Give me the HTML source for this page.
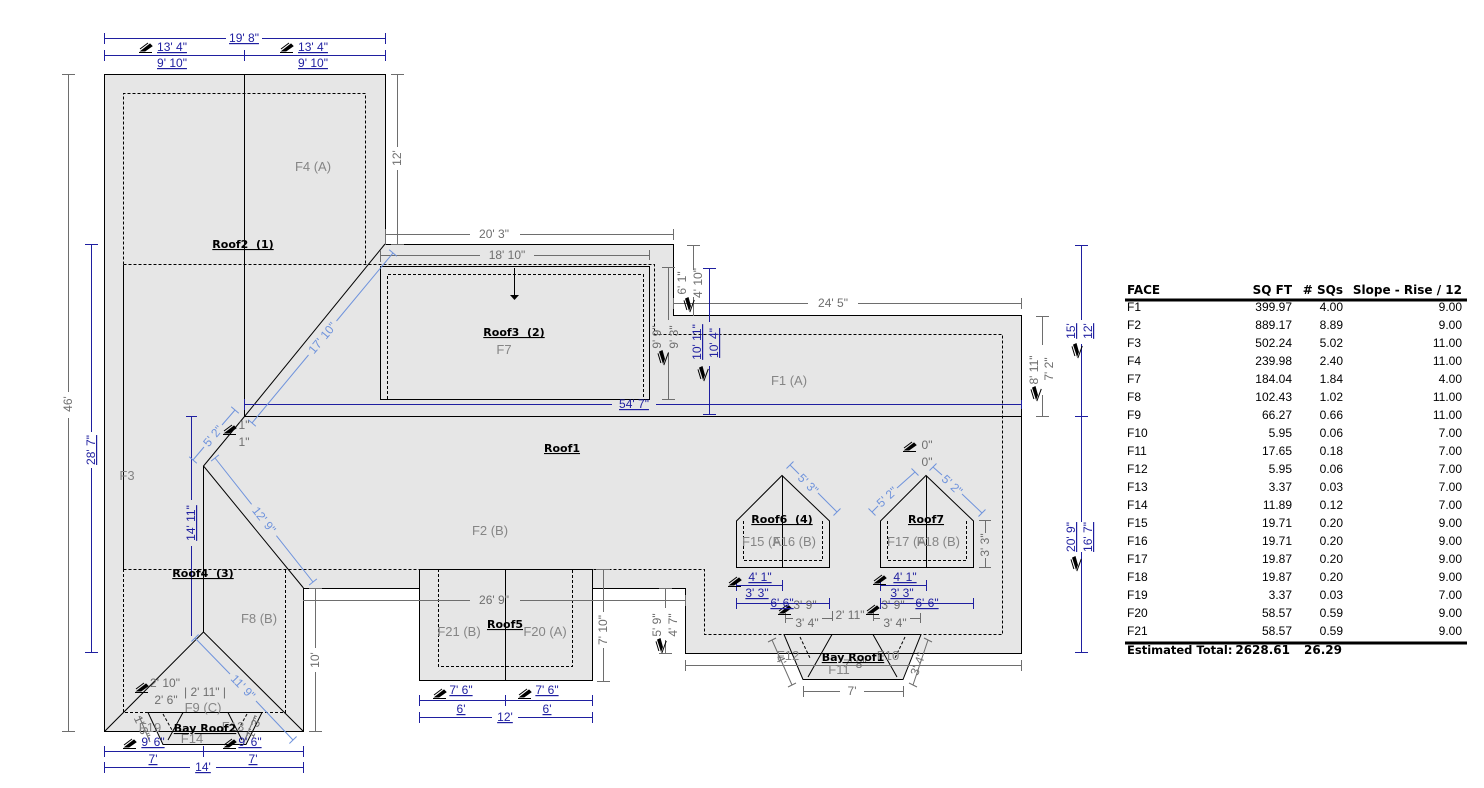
<!DOCTYPE html>
<html><head><meta charset="utf-8">
<style>
html,body{margin:0;padding:0;background:#fff;width:1484px;height:788px;overflow:hidden}
svg{display:block}
text{font-family:"Liberation Sans",Arial,sans-serif;font-size:12px}
.g{fill:#6e6e6e}
.b{fill:#1f1fa0;text-decoration:underline}
.lb{fill:#6f93dc}
.f{fill:#858585;font-size:13px}
.r{font-family:"DejaVu Sans",sans-serif;font-weight:bold;font-size:11px;fill:#000;text-decoration:underline;white-space:pre}
.t{font-family:"DejaVu Sans",sans-serif;font-size:12px;fill:#000}
.tb{font-family:"DejaVu Sans",sans-serif;font-size:12px;font-weight:bold;fill:#000}
.m{text-anchor:middle}
.e{text-anchor:end}
</style></head><body>
<svg width="1484" height="788" viewBox="0 0 1484 788" xmlns="http://www.w3.org/2000/svg">
<rect width="1484" height="788" fill="#fff"/>

<!-- main building -->
<path d="M104.5,74.5 H385.5 V244.5 H673.5 V315.5 H1021.5 V653.5 H685.5 V588.5 H303.5 V731.5 H104.5 Z" fill="#e6e6e6" stroke="#000"/>

<!-- dashed lines -->
<g stroke="#000" fill="none" stroke-dasharray="3 2">
<path d="M123.5,264.5 V93.5 H365.5 V264.5"/>
<path d="M123.5,264.5 H654.5 V334.5 H1002.5 V634.5 H704.5 V569.5 H123.5"/>
<path d="M123.5,569 V712.5 H285.5 V569"/>
</g>

<!-- black solid internal -->
<g stroke="#000" fill="none">
<path d="M244.5,74 V416.5"/>
<path d="M385,244 L244.5,416.5"/>
<path d="M244.5,416.5 H1021"/>
<path d="M244.5,416.5 L203.5,466 L303.5,588"/>
<path d="M203.5,466 V632"/>
<path d="M203.5,632 L104.5,731.5 M203.5,632 L303.5,731.5"/>
<path d="M123.5,265 V569"/>
<rect x="380.5" y="266.5" width="269" height="133"/>
</g>
<path d="M387.5,399 V274.5 H643.5 V399" stroke="#000" fill="none" stroke-dasharray="3 2"/>
<!-- roof3 arrow -->
<path d="M514.5,268 V296" stroke="#000"/>
<path d="M510,295 L519,295 L514.5,300 Z" fill="#000"/>

<!-- Roof5 -->
<rect x="419.5" y="569.5" width="173" height="111" fill="#e6e6e6" stroke="#000"/>
<path d="M438.5,569 V666.5 H572.5 V569" stroke="#000" fill="none" stroke-dasharray="3 2"/>
<path d="M505.5,569.5 V680.5" stroke="#000"/>

<!-- Roof6 / Roof7 -->
<path d="M736.5,567.5 V521 L782,475.5 L829.5,521 V567.5 Z" fill="#e6e6e6" stroke="#000"/>
<path d="M743.5,521 V560.5 H822.5 V521" stroke="#000" fill="none" stroke-dasharray="3 2"/>
<path d="M782.5,475.5 V567.5" stroke="#000"/>
<path d="M880.5,567.5 V521 L926,475.5 L973.5,521 V567.5 Z" fill="#e6e6e6" stroke="#000"/>
<path d="M887.5,521 V560.5 H966.5 V521" stroke="#000" fill="none" stroke-dasharray="3 2"/>
<path d="M926.5,475.5 V567.5" stroke="#000"/>

<!-- Bay roofs -->
<path d="M148,712.5 L262,712.5 L246,744.5 L163,744.5 Z" fill="#e6e6e6" stroke="#000"/>
<path d="M104,731.5 H303" stroke="#000"/>
<path d="M183,712.5 L168,740 M228,712.5 L242,740" stroke="#000" fill="none"/>
<path d="M163,714 L172,730 M247,714 L238,730" stroke="#000" fill="none" stroke-dasharray="3 2"/>
<path d="M784,634.5 L921,634.5 L903,679.5 L803,679.5 Z" fill="#e6e6e6" stroke="#000"/>
<path d="M685,653.5 H1021" stroke="#000"/>
<path d="M832,634.5 L808,677 M873,634.5 L897,677" stroke="#000" fill="none"/>
<path d="M800,637 L810,658 M905,637 L895,658" stroke="#000" fill="none" stroke-dasharray="3 2"/>

<!-- gray dimension lines -->
<g stroke="#6e6e6e" fill="none">
<path d="M68.5,74 V392 M68.5,418 V731 M62,74.5 H75 M62,731.5 H75"/>
<path d="M397.5,74 V147 M397.5,170 V244 M391,74.5 H404 M391,244.5 H404"/>
<path d="M385.5,229 V245 M385,234.5 H470 M520,234.5 H673 M673.5,229 V240"/>
<path d="M380.5,250 V262 M380,255.5 H480 M534,255.5 H650 M649.5,250 V260"/>
<path d="M673,303.5 H808 M858,303.5 H1021 M673.5,298 V309 M1021.5,298 V309"/>
<path d="M668.5,267 V320 M668.5,352 V399 M662,267.5 H675 M662,399.5 H675"/>
<path d="M693.5,245 V270 M693.5,297 V316 M687,245.5 H700"/>
<path d="M1042.5,316 V345 M1042.5,395 V416 M1036,316.5 H1049 M1036,416.5 H1049"/>
<path d="M303,600.5 H470 M520,600.5 H685 M685.5,595 V606"/>
<path d="M665.5,588 V608 M665.5,640 V653 M659,588.5 H672 M659,653.5 H672"/>
<path d="M603.5,569 V612 M603.5,648 V681 M597,569.5 H610 M597,681.5 H610"/>
<path d="M315.5,588 V648 M315.5,672 V731 M309,588.5 H322 M309,731.5 H322"/>
<path d="M685,665.5 H1021 M685.5,660 V671 M1021.5,660 V671"/>
<path d="M803,691.5 H840 M864,691.5 H903 M803.5,686 V697 M903.5,686 V697"/>
<path d="M985.5,520 V533 M985.5,558 V567 M979,520.5 H991 M979,567.5 H991"/>
<path d="M785.5,613 V623 M785,618.5 H793 M822,618.5 H832 M832.5,611 V621 M873.5,611 V621 M873,618.5 H880 M910,618.5 H920 M920.5,613 V623"/>
<path d="M772,640 L792,685 M768,642 L776,638 M788,687 L796,683"/>
<path d="M928,640 L913,685 M924,638 L932,642 M909,683 L917,687"/>
<path d="M139,716 L150,742 M255,716 L244,742"/>
</g>

<!-- dark blue dims -->
<g stroke="#1f1fa0" fill="none">
<path d="M104,38.5 H226 M262,38.5 H385 M104.5,33 V44 M385.5,33 V44"/>
<path d="M104,55.5 H385 M104.5,50 V61 M244.5,50 V61 M385.5,50 V61"/>
<path d="M91.5,244 V432 M91.5,468 V652 M85,244.5 H98 M85,652.5 H98"/>
<path d="M244,404.5 H612 M656,404.5 H1021 M244.5,399 V410 M1021.5,400 V409"/>
<path d="M709.5,268 V322 M709.5,366 V414 M703,268.5 H716 M703,414.5 H716"/>
<path d="M1081.5,245 V320 M1081.5,344 V522 M1081.5,552 V652 M1075,245.5 H1088 M1075,416.5 H1088 M1075,652.5 H1088"/>
<path d="M191.5,416 V500 M191.5,546 V636 M186,416.5 H197"/>
<path d="M419,700.5 H592 M419.5,695 V706 M505.5,695 V706 M592.5,695 V706"/>
<path d="M419,717.5 H492 M518,717.5 H592 M419.5,712 V723 M592.5,712 V723"/>
<path d="M104,751.5 H303 M104.5,746 V757 M203.5,746 V757 M303.5,746 V757"/>
<path d="M104,767.5 H190 M216,767.5 H303 M104.5,762 V773 M303.5,762 V773"/>
<path d="M736,585.5 H782 M736.5,580 V591 M782.5,580 V591"/>
<path d="M736,603.5 H829 M736.5,598 V609 M829.5,598 V609"/>
<path d="M880,585.5 H926 M880.5,580 V591 M926.5,580 V591"/>
<path d="M880,603.5 H973 M880.5,598 V609 M973.5,598 V609"/>
</g>

<!-- light blue diagonal dims -->
<g stroke="#6f93dc" fill="none">
<path d="M393,253 L336.5,321 M308.5,355 L252,423 M389.2,249.8 L396.8,256.2 M248.2,419.8 L255.8,426.2"/>
<path d="M193,460 L204,447 M222,425 L235,410 M189.2,456.8 L196.8,463.2 M231.2,406.8 L238.8,413.2"/>
<path d="M215,458 L251.6,504.3 M276.4,535.7 L313,582 M211.1,461.1 L218.9,454.9 M309.1,585.1 L316.9,578.9"/>
<path d="M195,638 L230,674 M256,701 L293,740 M191.4,641.5 L198.6,634.5 M289.4,743.5 L296.6,736.5"/>
<path d="M790,465 L799,474 M818,493 L837,512 M786.5,468.5 L793.5,461.5 M833.5,515.5 L840.5,508.5"/>
<path d="M872,512 L878,506 M897,488 L915,472 M868.5,508.5 L875.5,515.5 M911.5,468.5 L918.5,475.5"/>
<path d="M933,467 L942,475 M962,494 L982,513 M929.5,470.5 L936.5,463.5 M978.5,516.5 L985.5,509.5"/>
</g>

<!-- slope icons -->
<g fill="#000" stroke="#000" stroke-width="1">
<g transform="translate(146,48)"><path d="M-7,4.5H6" fill="none"/><path d="M-5,3 L4,-4 L6,-2 L-1,3 Z"/><path d="M-6,1 L2,-5" fill="none"/></g>
<g transform="translate(287,48)"><path d="M-7,4.5H6" fill="none"/><path d="M-5,3 L4,-4 L6,-2 L-1,3 Z"/><path d="M-6,1 L2,-5" fill="none"/></g>
<g transform="translate(230,430)"><path d="M-7,4.5H6" fill="none"/><path d="M-5,3 L4,-4 L6,-2 L-1,3 Z"/><path d="M-6,1 L2,-5" fill="none"/></g>
<g transform="translate(142,688)"><path d="M-7,4.5H6" fill="none"/><path d="M-5,3 L4,-4 L6,-2 L-1,3 Z"/><path d="M-6,1 L2,-5" fill="none"/></g>
<g transform="translate(130,744)"><path d="M-7,4.5H6" fill="none"/><path d="M-5,3 L4,-4 L6,-2 L-1,3 Z"/><path d="M-6,1 L2,-5" fill="none"/></g>
<g transform="translate(230,744)"><path d="M-7,4.5H6" fill="none"/><path d="M-5,3 L4,-4 L6,-2 L-1,3 Z"/><path d="M-6,1 L2,-5" fill="none"/></g>
<g transform="translate(440,694)"><path d="M-7,4.5H6" fill="none"/><path d="M-5,3 L4,-4 L6,-2 L-1,3 Z"/><path d="M-6,1 L2,-5" fill="none"/></g>
<g transform="translate(525,694)"><path d="M-7,4.5H6" fill="none"/><path d="M-5,3 L4,-4 L6,-2 L-1,3 Z"/><path d="M-6,1 L2,-5" fill="none"/></g>
<g transform="translate(735,582)"><path d="M-7,4.5H6" fill="none"/><path d="M-5,3 L4,-4 L6,-2 L-1,3 Z"/><path d="M-6,1 L2,-5" fill="none"/></g>
<g transform="translate(880,580)"><path d="M-7,4.5H6" fill="none"/><path d="M-5,3 L4,-4 L6,-2 L-1,3 Z"/><path d="M-6,1 L2,-5" fill="none"/></g>
<g transform="translate(785,610)"><path d="M-7,4.5H6" fill="none"/><path d="M-5,3 L4,-4 L6,-2 L-1,3 Z"/><path d="M-6,1 L2,-5" fill="none"/></g>
<g transform="translate(873,610)"><path d="M-7,4.5H6" fill="none"/><path d="M-5,3 L4,-4 L6,-2 L-1,3 Z"/><path d="M-6,1 L2,-5" fill="none"/></g>
<g transform="translate(910,447)"><path d="M-7,4.5H6" fill="none"/><path d="M-5,3 L4,-4 L6,-2 L-1,3 Z"/><path d="M-6,1 L2,-5" fill="none"/></g>
<g transform="translate(688,304) rotate(-70)"><path d="M-7,4.5H6" fill="none"/><path d="M-5,3 L4,-4 L6,-2 L-1,3 Z"/><path d="M-6,1 L2,-5" fill="none"/></g>
<g transform="translate(662,357) rotate(-70)"><path d="M-7,4.5H6" fill="none"/><path d="M-5,3 L4,-4 L6,-2 L-1,3 Z"/><path d="M-6,1 L2,-5" fill="none"/></g>
<g transform="translate(702,373) rotate(-70)"><path d="M-7,4.5H6" fill="none"/><path d="M-5,3 L4,-4 L6,-2 L-1,3 Z"/><path d="M-6,1 L2,-5" fill="none"/></g>
<g transform="translate(1035,393) rotate(-70)"><path d="M-7,4.5H6" fill="none"/><path d="M-5,3 L4,-4 L6,-2 L-1,3 Z"/><path d="M-6,1 L2,-5" fill="none"/></g>
<g transform="translate(1076,350) rotate(-70)"><path d="M-7,4.5H6" fill="none"/><path d="M-5,3 L4,-4 L6,-2 L-1,3 Z"/><path d="M-6,1 L2,-5" fill="none"/></g>
<g transform="translate(1075,563) rotate(-70)"><path d="M-7,4.5H6" fill="none"/><path d="M-5,3 L4,-4 L6,-2 L-1,3 Z"/><path d="M-6,1 L2,-5" fill="none"/></g>
<g transform="translate(660,645) rotate(-70)"><path d="M-7,4.5H6" fill="none"/><path d="M-5,3 L4,-4 L6,-2 L-1,3 Z"/><path d="M-6,1 L2,-5" fill="none"/></g>
</g>

<!-- blue labels -->
<text class="b m" x="244" y="42">19' 8"</text>
<text class="b m" x="172" y="51">13' 4"</text>
<text class="b m" x="313" y="51">13' 4"</text>
<text class="b m" x="172" y="67">9' 10"</text>
<text class="b m" x="313" y="67">9' 10"</text>
<text class="b m" x="91" y="454" transform="rotate(-90 91 450)">28' 7"</text>
<text class="b m" x="634" y="408">54' 7"</text>
<text class="b m" x="697" y="346" transform="rotate(-90 697 342)">10' 11"</text>
<text class="b m" x="714" y="347" transform="rotate(-90 714 343)">10' 4"</text>
<text class="b m" x="1071" y="335" transform="rotate(-90 1071 331)">15'</text>
<text class="b m" x="1088" y="335" transform="rotate(-90 1088 331)">12'</text>
<text class="b m" x="1071" y="541" transform="rotate(-90 1071 537)">20' 9"</text>
<text class="b m" x="1088" y="541" transform="rotate(-90 1088 537)">16' 7"</text>
<text class="b m" x="191" y="527" transform="rotate(-90 191 523)">14' 11"</text>
<text class="b m" x="461" y="694">7' 6"</text>
<text class="b m" x="547" y="694">7' 6"</text>
<text class="b m" x="461" y="713">6'</text>
<text class="b m" x="547" y="713">6'</text>
<text class="b m" x="505" y="721">12'</text>
<text class="b m" x="153" y="746">9' 6"</text>
<text class="b m" x="250" y="746">9' 6"</text>
<text class="b m" x="153" y="763">7'</text>
<text class="b m" x="253" y="763">7'</text>
<text class="b m" x="203" y="771">14'</text>
<text class="b m" x="760" y="581">4' 1"</text>
<text class="b m" x="905" y="581">4' 1"</text>
<text class="b m" x="757" y="597">3' 3"</text>
<text class="b m" x="902" y="597">3' 3"</text>
<text class="b m" x="782" y="607">6' 6"</text>
<text class="b m" x="927" y="607">6' 6"</text>

<!-- light blue labels -->
<text class="lb m" x="322.5" y="342" transform="rotate(-50.3 322.5 338)">17' 10"</text>
<text class="lb m" x="213" y="440" transform="rotate(-50 213 436)">5' 2"</text>
<text class="lb m" x="264" y="524" transform="rotate(51.7 264 520)">12' 9"</text>
<text class="lb m" x="243" y="691" transform="rotate(46 243 687)">11' 9"</text>
<text class="lb m" x="808" y="488" transform="rotate(45 808 484)">5' 3"</text>
<text class="lb m" x="887" y="501" transform="rotate(-43 887 497)">5' 2"</text>
<text class="lb m" x="952" y="489" transform="rotate(43 952 485)">5' 2"</text>

<!-- gray labels -->
<text class="g m" x="68" y="408" transform="rotate(-90 68 404)">46'</text>
<text class="g m" x="397" y="162" transform="rotate(-90 397 158)">12'</text>
<text class="g m" x="494" y="238">20' 3"</text>
<text class="g m" x="507" y="259">18' 10"</text>
<text class="g m" x="833" y="307">24' 5"</text>
<text class="g m" x="657" y="341" transform="rotate(-90 657 337)">9' 9"</text>
<text class="g m" x="674" y="341" transform="rotate(-90 674 337)">9' 3"</text>
<text class="g m" x="682" y="287" transform="rotate(-90 682 283)">6' 1"</text>
<text class="g m" x="698" y="287" transform="rotate(-90 698 283)">4' 10"</text>
<text class="g m" x="1034" y="374" transform="rotate(-90 1034 370)">8' 11"</text>
<text class="g m" x="1049" y="373" transform="rotate(-90 1049 369)">7' 2"</text>
<text class="g m" x="244" y="429">1"</text>
<text class="g m" x="244" y="446">1"</text>
<text class="g m" x="494" y="604">26' 9"</text>
<text class="g m" x="603" y="634" transform="rotate(-90 603 630)">7' 10"</text>
<text class="g m" x="657" y="629" transform="rotate(-90 657 625)">5' 9"</text>
<text class="g m" x="673" y="629" transform="rotate(-90 673 625)">4' 7"</text>
<text class="g m" x="315" y="664" transform="rotate(-90 315 660)">10'</text>
<text class="g m" x="165" y="687">2' 10"</text>
<text class="g m" x="166" y="704">2' 6"</text>
<text class="g m" x="205" y="696">| 2' 11" |</text>
<text class="g m" x="927" y="449">0"</text>
<text class="g m" x="927" y="466">0"</text>
<text class="g m" x="985" y="549" transform="rotate(-90 985 545)">3' 3"</text>
<text class="g m" x="805" y="609">3' 9"</text>
<text class="g m" x="893" y="609">3' 9"</text>
<text class="g m" x="807" y="627">3' 4"</text>
<text class="g m" x="895" y="627">3' 4"</text>
<text class="g m" x="850" y="619">2' 11"</text>
<text class="g m" x="852" y="695">7'</text>
<text class="g m" x="855" y="668">7' 8"</text>
<text class="g m" x="781" y="664" transform="rotate(66 781 660)">4'</text>
<text class="g m" x="918" y="668" transform="rotate(-70 918 664)">3' 4"</text>
<text class="g m" x="142" y="731" transform="rotate(66 142 727)">1' 3"</text>
<text class="g m" x="254" y="731" transform="rotate(-66 254 727)">1' 3"</text>

<!-- face labels -->
<text class="f m" x="313" y="171">F4  (A)</text>
<text class="f m" x="504" y="354">F7</text>
<text class="f m" x="789" y="385">F1  (A)</text>
<text class="f m" x="490" y="535">F2  (B)</text>
<text class="f m" x="127" y="480">F3</text>
<text class="f m" x="259" y="623">F8  (B)</text>
<text class="f m" x="203" y="712">F9  (C)</text>
<text class="f m" x="192" y="743">F14</text>
<text class="f m" x="150" y="732">F19</text>
<text class="f m" x="233" y="731">F13</text>
<text class="f m" x="459" y="636">F21 (B)</text>
<text class="f m" x="545" y="636">F20 (A)</text>
<text class="f" x="742" y="546">F15 (A</text>
<text class="f e" x="816" y="546">F16 (B)</text>
<text class="f" x="887" y="546">F17 (A</text>
<text class="f e" x="960" y="546">F18 (B)</text>
<text class="f m" x="788" y="660">F12</text>
<text class="f m" x="888" y="660">F10</text>
<text class="f m" x="839" y="674">F11</text>

<!-- roof labels -->
<text class="r m" x="243" y="248">Roof2  (1)</text>
<text class="r m" x="514" y="336">Roof3  (2)</text>
<text class="r m" x="562" y="452">Roof1</text>
<text class="r m" x="203" y="577">Roof4  (3)</text>
<text class="r m" x="505" y="628">Roof5</text>
<text class="r m" x="782" y="523">Roof6  (4)</text>
<text class="r m" x="926" y="523">Roof7</text>
<text class="r m" x="853" y="661">Bay Roof1</text>
<text class="r m" x="205" y="732">Bay Roof2</text>

<!-- table -->
<text class="tb" x="1127" y="294">FACE</text>
<text class="tb e" x="1292" y="294">SQ FT</text>
<text class="tb e" x="1343" y="294"># SQs</text>
<text class="tb e" x="1462" y="294">Slope - Rise / 12</text>
<rect x="1125" y="298.5" width="342" height="3" fill="#000"/>
<g class="t">
<text x="1127" y="311">F1</text><text class="e" x="1292" y="311">399.97</text><text class="e" x="1343" y="311">4.00</text><text class="e" x="1462" y="311">9.00</text>
<text x="1127" y="329">F2</text><text class="e" x="1292" y="329">889.17</text><text class="e" x="1343" y="329">8.89</text><text class="e" x="1462" y="329">9.00</text>
<text x="1127" y="347">F3</text><text class="e" x="1292" y="347">502.24</text><text class="e" x="1343" y="347">5.02</text><text class="e" x="1462" y="347">11.00</text>
<text x="1127" y="365">F4</text><text class="e" x="1292" y="365">239.98</text><text class="e" x="1343" y="365">2.40</text><text class="e" x="1462" y="365">11.00</text>
<text x="1127" y="383">F7</text><text class="e" x="1292" y="383">184.04</text><text class="e" x="1343" y="383">1.84</text><text class="e" x="1462" y="383">4.00</text>
<text x="1127" y="401">F8</text><text class="e" x="1292" y="401">102.43</text><text class="e" x="1343" y="401">1.02</text><text class="e" x="1462" y="401">11.00</text>
<text x="1127" y="419">F9</text><text class="e" x="1292" y="419">66.27</text><text class="e" x="1343" y="419">0.66</text><text class="e" x="1462" y="419">11.00</text>
<text x="1127" y="437">F10</text><text class="e" x="1292" y="437">5.95</text><text class="e" x="1343" y="437">0.06</text><text class="e" x="1462" y="437">7.00</text>
<text x="1127" y="455">F11</text><text class="e" x="1292" y="455">17.65</text><text class="e" x="1343" y="455">0.18</text><text class="e" x="1462" y="455">7.00</text>
<text x="1127" y="473">F12</text><text class="e" x="1292" y="473">5.95</text><text class="e" x="1343" y="473">0.06</text><text class="e" x="1462" y="473">7.00</text>
<text x="1127" y="491">F13</text><text class="e" x="1292" y="491">3.37</text><text class="e" x="1343" y="491">0.03</text><text class="e" x="1462" y="491">7.00</text>
<text x="1127" y="509">F14</text><text class="e" x="1292" y="509">11.89</text><text class="e" x="1343" y="509">0.12</text><text class="e" x="1462" y="509">7.00</text>
<text x="1127" y="527">F15</text><text class="e" x="1292" y="527">19.71</text><text class="e" x="1343" y="527">0.20</text><text class="e" x="1462" y="527">9.00</text>
<text x="1127" y="545">F16</text><text class="e" x="1292" y="545">19.71</text><text class="e" x="1343" y="545">0.20</text><text class="e" x="1462" y="545">9.00</text>
<text x="1127" y="563">F17</text><text class="e" x="1292" y="563">19.87</text><text class="e" x="1343" y="563">0.20</text><text class="e" x="1462" y="563">9.00</text>
<text x="1127" y="581">F18</text><text class="e" x="1292" y="581">19.87</text><text class="e" x="1343" y="581">0.20</text><text class="e" x="1462" y="581">9.00</text>
<text x="1127" y="599">F19</text><text class="e" x="1292" y="599">3.37</text><text class="e" x="1343" y="599">0.03</text><text class="e" x="1462" y="599">7.00</text>
<text x="1127" y="617">F20</text><text class="e" x="1292" y="617">58.57</text><text class="e" x="1343" y="617">0.59</text><text class="e" x="1462" y="617">9.00</text>
<text x="1127" y="635">F21</text><text class="e" x="1292" y="635">58.57</text><text class="e" x="1343" y="635">0.59</text><text class="e" x="1462" y="635">9.00</text>
</g>
<rect x="1125" y="641.5" width="342" height="3" fill="#000"/>
<text class="tb" x="1127" y="654" style="font-size:11.5px">Estimated Total:</text>
<text class="tb e" x="1290" y="654">2628.61</text>
<text class="tb e" x="1342" y="654">26.29</text>
</svg>
</body></html>
